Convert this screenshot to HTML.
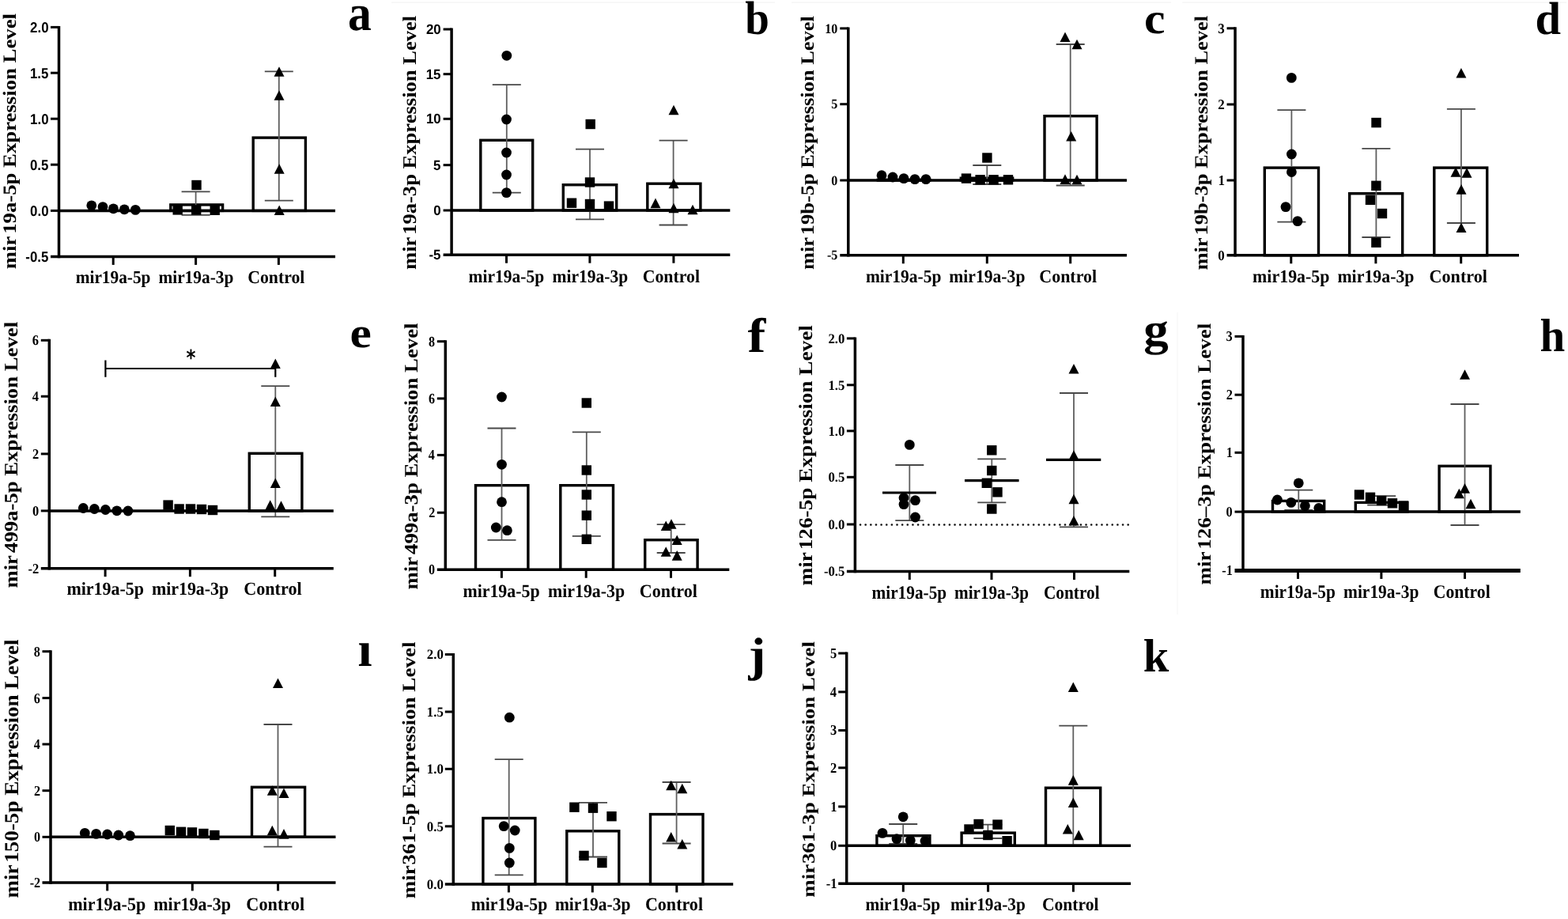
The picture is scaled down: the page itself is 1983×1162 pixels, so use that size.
<!DOCTYPE html><html><head><meta charset="utf-8"><title>Figure</title><style>
html,body{margin:0;padding:0;background:#fff;overflow:hidden;width:1983px;height:1162px;}svg{display:block;filter:blur(0.5px);}text{text-rendering:geometricPrecision;}
.sb{font-family:"Liberation Serif","Times New Roman",serif;font-weight:bold;}
.ab{font-family:"Liberation Sans",Arial,sans-serif;font-weight:bold;}
.sr{font-family:"Liberation Serif","Times New Roman",serif;}
.db{font-family:"DejaVu Sans",sans-serif;font-weight:bold;}
</style></head><body>
<svg width="1983" height="1162" viewBox="0 0 1983 1162">
<rect width="1983" height="1162" fill="#fff"/>
<line x1="495" y1="3.1" x2="980" y2="3.1" stroke="#f3f3f3" stroke-width="1.4"/>
<line x1="1001" y1="3.1" x2="1481" y2="3.1" stroke="#f3f3f3" stroke-width="1.4"/>
<line x1="1495.2" y1="3.1" x2="1981" y2="3.1" stroke="#f3f3f3" stroke-width="1.4"/>
<line x1="1489" y1="395" x2="1489" y2="777" stroke="#f8f8f8" stroke-width="1.4"/>
<g>
<rect x="215.8" y="258.9" width="65.8" height="7.5" fill="#fff" stroke="#000" stroke-width="3.4"/>
<rect x="320.2" y="174.1" width="66.2" height="92.3" fill="#fff" stroke="#000" stroke-width="3.4"/>
<line x1="247.6" y1="242.3" x2="247.6" y2="271.8" stroke="#5e5e5e" stroke-width="1.8"/>
<line x1="229.6" y1="242.3" x2="265.6" y2="242.3" stroke="#484848" stroke-width="1.8"/>
<line x1="229.6" y1="271.8" x2="265.6" y2="271.8" stroke="#484848" stroke-width="1.8"/>
<line x1="352.8" y1="90.3" x2="352.8" y2="253.6" stroke="#5e5e5e" stroke-width="1.8"/>
<line x1="334.8" y1="90.3" x2="370.8" y2="90.3" stroke="#484848" stroke-width="1.8"/>
<line x1="334.8" y1="253.6" x2="370.8" y2="253.6" stroke="#484848" stroke-width="1.8"/>
<line x1="74.5" y1="32.9" x2="74.5" y2="326.15" stroke="#000" stroke-width="3.5"/>
<line x1="64" y1="34.4" x2="74.5" y2="34.4" stroke="#000" stroke-width="3"/>
<line x1="64" y1="92.2" x2="74.5" y2="92.2" stroke="#000" stroke-width="3"/>
<line x1="64" y1="150.2" x2="74.5" y2="150.2" stroke="#000" stroke-width="3"/>
<line x1="64" y1="208.2" x2="74.5" y2="208.2" stroke="#000" stroke-width="3"/>
<line x1="64" y1="266.4" x2="74.5" y2="266.4" stroke="#000" stroke-width="3"/>
<line x1="64" y1="324.4" x2="424" y2="324.4" stroke="#000" stroke-width="3.5"/>
<line x1="74.5" y1="266.4" x2="424" y2="266.4" stroke="#000" stroke-width="3.5"/>
<line x1="143.2" y1="324.4" x2="143.2" y2="334.9" stroke="#000" stroke-width="3"/>
<line x1="247.6" y1="324.4" x2="247.6" y2="334.9" stroke="#000" stroke-width="3"/>
<line x1="352.4" y1="324.4" x2="352.4" y2="334.9" stroke="#000" stroke-width="3"/>
<circle cx="115.8" cy="259.8" r="6.4"/>
<circle cx="130" cy="261.6" r="6.4"/>
<circle cx="143.4" cy="263.8" r="6.4"/>
<circle cx="157.3" cy="264.8" r="6.4"/>
<circle cx="171.3" cy="265.4" r="6.4"/>
<rect x="242.3" y="227.8" width="12.4" height="12.4"/>
<rect x="218.5" y="259.2" width="12.4" height="12.4"/>
<rect x="242" y="259.2" width="12.4" height="12.4"/>
<rect x="265.5" y="259.6" width="12.4" height="12.4"/>
<path d="M353 84.2L359.5 96.8L346.5 96.8Z"/>
<path d="M353 114.2L359.5 126.8L346.5 126.8Z"/>
<path d="M353.2 207.2L359.7 219.8L346.7 219.8Z"/>
<path d="M353.2 259.5L359.7 272.1L346.7 272.1Z"/>
<text class="ab" font-size="18.5" transform="translate(38.11 40.76) scale(0.909 1)">2.0</text>
<text class="ab" font-size="18.5" transform="translate(37.89 98.56) scale(0.909 1)">1.5</text>
<text class="ab" font-size="18.5" transform="translate(38.11 156.56) scale(0.909 1)">1.0</text>
<text class="ab" font-size="18.5" transform="translate(37.89 214.56) scale(0.909 1)">0.5</text>
<text class="ab" font-size="18.5" transform="translate(38.11 272.76) scale(0.909 1)">0.0</text>
<text class="ab" font-size="18.5" transform="translate(32.29 330.76) scale(0.909 1)">-0.5</text>
<text class="sb" font-size="23.66" transform="translate(20.1 340.22) rotate(-90) scale(1.1302 1)">mir<tspan dx="2.5">19a-5p Expression Level</tspan></text>
<text class="sb" font-size="23.03" transform="translate(95.72 357.9) scale(0.9265 1)">mir19a-5p</text>
<text class="sb" font-size="23.03" transform="translate(200.42 357.9) scale(0.9275 1)">mir19a-3p</text>
<text class="sb" font-size="23.03" transform="translate(313.23 357.9) scale(0.9461 1)">Control</text>
<text class="sb" font-size="64.72" transform="translate(440.09 37.75) scale(0.921 1)">a</text>
</g>
<g>
<rect x="607.8" y="177.3" width="65.9" height="88.7" fill="#fff" stroke="#000" stroke-width="3.4"/>
<rect x="712.3" y="233.7" width="67.4" height="32.3" fill="#fff" stroke="#000" stroke-width="3.4"/>
<rect x="818.8" y="232.2" width="67.1" height="33.8" fill="#fff" stroke="#000" stroke-width="3.4"/>
<line x1="640.8" y1="107.2" x2="640.8" y2="243.6" stroke="#5e5e5e" stroke-width="1.8"/>
<line x1="622.8" y1="107.2" x2="658.8" y2="107.2" stroke="#484848" stroke-width="1.8"/>
<line x1="622.8" y1="243.6" x2="658.8" y2="243.6" stroke="#484848" stroke-width="1.8"/>
<line x1="746" y1="188.7" x2="746" y2="277.3" stroke="#5e5e5e" stroke-width="1.8"/>
<line x1="728" y1="188.7" x2="764" y2="188.7" stroke="#484848" stroke-width="1.8"/>
<line x1="728" y1="277.3" x2="764" y2="277.3" stroke="#484848" stroke-width="1.8"/>
<line x1="851.6" y1="177.6" x2="851.6" y2="284.5" stroke="#5e5e5e" stroke-width="1.8"/>
<line x1="833.6" y1="177.6" x2="869.6" y2="177.6" stroke="#484848" stroke-width="1.8"/>
<line x1="833.6" y1="284.5" x2="869.6" y2="284.5" stroke="#484848" stroke-width="1.8"/>
<line x1="571.1" y1="35.5" x2="571.1" y2="323.95" stroke="#000" stroke-width="3.5"/>
<line x1="560.6" y1="37" x2="571.1" y2="37" stroke="#000" stroke-width="3"/>
<line x1="560.6" y1="93.7" x2="571.1" y2="93.7" stroke="#000" stroke-width="3"/>
<line x1="560.6" y1="150.3" x2="571.1" y2="150.3" stroke="#000" stroke-width="3"/>
<line x1="560.6" y1="208.7" x2="571.1" y2="208.7" stroke="#000" stroke-width="3"/>
<line x1="560.6" y1="266" x2="571.1" y2="266" stroke="#000" stroke-width="3"/>
<line x1="560.6" y1="322.2" x2="923.3" y2="322.2" stroke="#000" stroke-width="3.5"/>
<line x1="571.1" y1="266" x2="923.3" y2="266" stroke="#000" stroke-width="3.5"/>
<line x1="640.5" y1="322.2" x2="640.5" y2="332.7" stroke="#000" stroke-width="3"/>
<line x1="745.9" y1="322.2" x2="745.9" y2="332.7" stroke="#000" stroke-width="3"/>
<line x1="851.9" y1="322.2" x2="851.9" y2="332.7" stroke="#000" stroke-width="3"/>
<circle cx="640.8" cy="70.3" r="6.4"/>
<circle cx="640.5" cy="151" r="6.4"/>
<circle cx="640.5" cy="193" r="6.4"/>
<circle cx="640.5" cy="221" r="6.4"/>
<circle cx="640.5" cy="243.6" r="6.4"/>
<rect x="740.5" y="150.8" width="12.4" height="12.4"/>
<rect x="739.8" y="224.3" width="12.4" height="12.4"/>
<rect x="716.8" y="250.5" width="12.4" height="12.4"/>
<rect x="739.8" y="251.8" width="12.4" height="12.4"/>
<rect x="763.8" y="254.4" width="12.4" height="12.4"/>
<path d="M852 132.7L858.5 145.3L845.5 145.3Z"/>
<path d="M852 225.7L858.5 238.3L845.5 238.3Z"/>
<path d="M829 250.6L835.5 263.2L822.5 263.2Z"/>
<path d="M852 256.7L858.5 269.3L845.5 269.3Z"/>
<path d="M876 258.7L882.5 271.3L869.5 271.3Z"/>
<text class="ab" font-size="17.66" transform="translate(538.91 43.07) scale(0.9568 1)">20</text>
<text class="ab" font-size="17.66" transform="translate(538.69 99.77) scale(0.9568 1)">15</text>
<text class="ab" font-size="17.66" transform="translate(538.91 156.37) scale(0.9568 1)">10</text>
<text class="ab" font-size="17.66" transform="translate(548.08 214.77) scale(0.9568 1)">5</text>
<text class="ab" font-size="17.66" transform="translate(548.3 272.07) scale(0.9568 1)">0</text>
<text class="ab" font-size="17.66" transform="translate(542.46 328.27) scale(0.9568 1)">-5</text>
<text class="sb" font-size="24.27" transform="translate(526 340.92) rotate(-90) scale(1.0951 1)">mir<tspan dx="2.5">19a-3p Expression Level</tspan></text>
<text class="sb" font-size="23.03" transform="translate(592.62 356.7) scale(0.9334 1)">mir19a-5p</text>
<text class="sb" font-size="23.03" transform="translate(698.52 356.7) scale(0.9344 1)">mir19a-3p</text>
<text class="sb" font-size="23.03" transform="translate(812.63 356.7) scale(0.9488 1)">Control</text>
<text class="sb" font-size="59.66" transform="translate(942.28 43.4) scale(0.9231 1)">b</text>
</g>
<g>
<rect x="1110.3" y="227.2" width="65.4" height="0.8" fill="#fff" stroke="#000" stroke-width="3.4"/>
<rect x="1215.3" y="225.2" width="65.4" height="2.8" fill="#fff" stroke="#000" stroke-width="3.4"/>
<rect x="1321" y="146.7" width="66.1" height="81.3" fill="#fff" stroke="#000" stroke-width="3.4"/>
<line x1="1248.3" y1="209" x2="1248.3" y2="233" stroke="#5e5e5e" stroke-width="1.8"/>
<line x1="1230.3" y1="209" x2="1266.3" y2="209" stroke="#484848" stroke-width="1.8"/>
<line x1="1230.3" y1="233" x2="1266.3" y2="233" stroke="#484848" stroke-width="1.8"/>
<line x1="1353.7" y1="56" x2="1353.7" y2="234.5" stroke="#5e5e5e" stroke-width="1.8"/>
<line x1="1335.7" y1="56" x2="1371.7" y2="56" stroke="#484848" stroke-width="1.8"/>
<line x1="1335.7" y1="234.5" x2="1371.7" y2="234.5" stroke="#484848" stroke-width="1.8"/>
<line x1="1072.8" y1="34.4" x2="1072.8" y2="324.55" stroke="#000" stroke-width="3.5"/>
<line x1="1062.3" y1="35.9" x2="1072.8" y2="35.9" stroke="#000" stroke-width="3"/>
<line x1="1062.3" y1="131.7" x2="1072.8" y2="131.7" stroke="#000" stroke-width="3"/>
<line x1="1062.3" y1="228" x2="1072.8" y2="228" stroke="#000" stroke-width="3"/>
<line x1="1062.3" y1="322.8" x2="1425" y2="322.8" stroke="#000" stroke-width="3.5"/>
<line x1="1072.8" y1="228" x2="1425" y2="228" stroke="#000" stroke-width="3.5"/>
<line x1="1142.3" y1="322.8" x2="1142.3" y2="333.3" stroke="#000" stroke-width="3"/>
<line x1="1248.3" y1="322.8" x2="1248.3" y2="333.3" stroke="#000" stroke-width="3"/>
<line x1="1353.7" y1="322.8" x2="1353.7" y2="333.3" stroke="#000" stroke-width="3"/>
<circle cx="1115" cy="221.7" r="6.4"/>
<circle cx="1129" cy="224" r="6.4"/>
<circle cx="1143" cy="225.6" r="6.4"/>
<circle cx="1157" cy="226.6" r="6.4"/>
<circle cx="1171" cy="226.6" r="6.4"/>
<rect x="1242.2" y="193.3" width="12.4" height="12.4"/>
<rect x="1215.8" y="219.4" width="12.4" height="12.4"/>
<rect x="1233.4" y="221.1" width="12.4" height="12.4"/>
<rect x="1250.4" y="221.1" width="12.4" height="12.4"/>
<rect x="1268.8" y="221.1" width="12.4" height="12.4"/>
<path d="M1347 40.5L1353.5 53.1L1340.5 53.1Z"/>
<path d="M1362 49.7L1368.5 62.3L1355.5 62.3Z"/>
<path d="M1354.7 166L1361.2 178.6L1348.2 178.6Z"/>
<path d="M1347 220.3L1353.5 232.9L1340.5 232.9Z"/>
<path d="M1362 220.7L1368.5 233.3L1355.5 233.3Z"/>
<text class="sb" font-size="17.33" transform="translate(1043.21 41.58) scale(0.9288 1)">10</text>
<text class="sb" font-size="17.33" transform="translate(1051.25 137.38) scale(0.9288 1)">5</text>
<text class="sb" font-size="17.33" transform="translate(1051.26 233.68) scale(0.9288 1)">0</text>
<text class="sb" font-size="17.33" transform="translate(1045.88 328.48) scale(0.9288 1)">-5</text>
<text class="sb" font-size="23.66" transform="translate(1029.1 341.11) rotate(-90) scale(1.1173 1)">mir<tspan dx="2.5">19b-5p Expression Level</tspan></text>
<text class="sb" font-size="23.03" transform="translate(1094.92 356.7) scale(0.9334 1)">mir19a-5p</text>
<text class="sb" font-size="23.03" transform="translate(1200.32 356.7) scale(0.9394 1)">mir19a-3p</text>
<text class="sb" font-size="23.03" transform="translate(1314.32 356.7) scale(0.9542 1)">Control</text>
<text class="sb" font-size="55.21" transform="translate(1446.97 42) scale(1.0821 1)">c</text>
</g>
<g>
<rect x="1599.3" y="212.1" width="68.2" height="110.7" fill="#fff" stroke="#000" stroke-width="3.4"/>
<rect x="1706.7" y="244.7" width="67" height="78.1" fill="#fff" stroke="#000" stroke-width="3.4"/>
<rect x="1813.8" y="212.1" width="66.9" height="110.7" fill="#fff" stroke="#000" stroke-width="3.4"/>
<line x1="1633.4" y1="139.1" x2="1633.4" y2="280.6" stroke="#5e5e5e" stroke-width="1.8"/>
<line x1="1615.4" y1="139.1" x2="1651.4" y2="139.1" stroke="#484848" stroke-width="1.8"/>
<line x1="1615.4" y1="280.6" x2="1651.4" y2="280.6" stroke="#484848" stroke-width="1.8"/>
<line x1="1740.4" y1="187.8" x2="1740.4" y2="300" stroke="#5e5e5e" stroke-width="1.8"/>
<line x1="1722.4" y1="187.8" x2="1758.4" y2="187.8" stroke="#484848" stroke-width="1.8"/>
<line x1="1722.4" y1="300" x2="1758.4" y2="300" stroke="#484848" stroke-width="1.8"/>
<line x1="1847.9" y1="137.9" x2="1847.9" y2="282" stroke="#5e5e5e" stroke-width="1.8"/>
<line x1="1829.9" y1="137.9" x2="1865.9" y2="137.9" stroke="#484848" stroke-width="1.8"/>
<line x1="1829.9" y1="282" x2="1865.9" y2="282" stroke="#484848" stroke-width="1.8"/>
<line x1="1562.05" y1="34.3" x2="1562.05" y2="324.55" stroke="#000" stroke-width="3.5"/>
<line x1="1551.55" y1="35.8" x2="1562.05" y2="35.8" stroke="#000" stroke-width="3"/>
<line x1="1551.55" y1="132" x2="1562.05" y2="132" stroke="#000" stroke-width="3"/>
<line x1="1551.55" y1="228" x2="1562.05" y2="228" stroke="#000" stroke-width="3"/>
<line x1="1551.55" y1="322.8" x2="1921" y2="322.8" stroke="#000" stroke-width="3.5"/>
<line x1="1632.8" y1="322.8" x2="1632.8" y2="333.3" stroke="#000" stroke-width="3"/>
<line x1="1739.9" y1="322.8" x2="1739.9" y2="333.3" stroke="#000" stroke-width="3"/>
<line x1="1847.7" y1="322.8" x2="1847.7" y2="333.3" stroke="#000" stroke-width="3"/>
<circle cx="1633.3" cy="98.4" r="6.4"/>
<circle cx="1633.4" cy="195" r="6.4"/>
<circle cx="1633.4" cy="217.5" r="6.4"/>
<circle cx="1626" cy="261.6" r="6.4"/>
<circle cx="1641" cy="279.6" r="6.4"/>
<rect x="1734.3" y="148.9" width="12.4" height="12.4"/>
<rect x="1734.2" y="228.6" width="12.4" height="12.4"/>
<rect x="1726.8" y="246.6" width="12.4" height="12.4"/>
<rect x="1741.8" y="263.8" width="12.4" height="12.4"/>
<rect x="1734.2" y="300.5" width="12.4" height="12.4"/>
<path d="M1847.9 86L1854.4 98.6L1841.4 98.6Z"/>
<path d="M1841 211.2L1847.5 223.8L1834.5 223.8Z"/>
<path d="M1855 212.1L1861.5 224.7L1848.5 224.7Z"/>
<path d="M1848 233.1L1854.5 245.7L1841.5 245.7Z"/>
<path d="M1848 281.5L1854.5 294.1L1841.5 294.1Z"/>
<text class="sb" font-size="18.01" transform="translate(1540.15 41.67) scale(0.9472 1)">3</text>
<text class="sb" font-size="18.01" transform="translate(1540.31 137.87) scale(0.9472 1)">2</text>
<text class="sb" font-size="18.01" transform="translate(1540.46 233.87) scale(0.9472 1)">1</text>
<text class="sb" font-size="18.01" transform="translate(1540.22 328.67) scale(0.9472 1)">0</text>
<text class="sb" font-size="23.66" transform="translate(1526.5 341.62) rotate(-90) scale(1.1204 1)">mir<tspan dx="2.5">19b-3p Expression Level</tspan></text>
<text class="sb" font-size="23.03" transform="translate(1584.11 356.7) scale(0.9523 1)">mir19a-5p</text>
<text class="sb" font-size="23.03" transform="translate(1691.41 356.7) scale(0.9493 1)">mir19a-3p</text>
<text class="sb" font-size="23.03" transform="translate(1807.62 356.7) scale(0.9595 1)">Control</text>
<text class="sb" font-size="58.24" transform="translate(1941.6 43.42) scale(1.005 1)">d</text>
</g>
<g>
<rect x="315.3" y="573.3" width="66.6" height="72.6" fill="#fff" stroke="#000" stroke-width="3.4"/>
<line x1="348.3" y1="488.2" x2="348.3" y2="653.3" stroke="#5e5e5e" stroke-width="1.8"/>
<line x1="330.3" y1="488.2" x2="366.3" y2="488.2" stroke="#484848" stroke-width="1.8"/>
<line x1="330.3" y1="653.3" x2="366.3" y2="653.3" stroke="#484848" stroke-width="1.8"/>
<line x1="62.3" y1="428.8" x2="62.3" y2="720.45" stroke="#000" stroke-width="3.5"/>
<line x1="51.8" y1="430.3" x2="62.3" y2="430.3" stroke="#000" stroke-width="3"/>
<line x1="51.8" y1="501.2" x2="62.3" y2="501.2" stroke="#000" stroke-width="3"/>
<line x1="51.8" y1="573.9" x2="62.3" y2="573.9" stroke="#000" stroke-width="3"/>
<line x1="51.8" y1="645.9" x2="62.3" y2="645.9" stroke="#000" stroke-width="3"/>
<line x1="51.8" y1="718.7" x2="421.8" y2="718.7" stroke="#000" stroke-width="3.5"/>
<line x1="62.3" y1="645.9" x2="421.8" y2="645.9" stroke="#000" stroke-width="3.5"/>
<line x1="133.1" y1="718.7" x2="133.1" y2="729.2" stroke="#000" stroke-width="3"/>
<line x1="240.4" y1="718.7" x2="240.4" y2="729.2" stroke="#000" stroke-width="3"/>
<line x1="347.7" y1="718.7" x2="347.7" y2="729.2" stroke="#000" stroke-width="3"/>
<circle cx="105.3" cy="642.5" r="6.4"/>
<circle cx="119.4" cy="643.5" r="6.4"/>
<circle cx="133.4" cy="644.5" r="6.4"/>
<circle cx="147.8" cy="645.8" r="6.4"/>
<circle cx="161.9" cy="646" r="6.4"/>
<rect x="206.4" y="632.4" width="12.4" height="12.4"/>
<rect x="220.4" y="637.3" width="12.4" height="12.4"/>
<rect x="234.8" y="637.3" width="12.4" height="12.4"/>
<rect x="248.8" y="637.8" width="12.4" height="12.4"/>
<rect x="262.8" y="638.8" width="12.4" height="12.4"/>
<path d="M348.3 453.4L354.8 466L341.8 466Z"/>
<path d="M348.3 501.5L354.8 514.1L341.8 514.1Z"/>
<path d="M348.3 604.5L354.8 617.1L341.8 617.1Z"/>
<path d="M341.7 632.3L348.2 644.9L335.2 644.9Z"/>
<path d="M355.5 633.3L362 645.9L349 645.9Z"/>
<line x1="133.4" y1="466" x2="348.3" y2="466" stroke="#000" stroke-width="2.2"/>
<line x1="133.4" y1="455.5" x2="133.4" y2="476.8" stroke="#000" stroke-width="2.2"/>
<line x1="348.3" y1="466" x2="348.3" y2="476.8" stroke="#000" stroke-width="2.2"/>
<text class="db" font-size="27.8" transform="translate(235.44 461.73) scale(0.8192 1)">*</text>
<text class="sb" font-size="18.01" transform="translate(40.84 436.17) scale(0.915 1)">6</text>
<text class="sb" font-size="18.01" transform="translate(40.68 507.07) scale(0.915 1)">4</text>
<text class="sb" font-size="18.01" transform="translate(41.07 579.77) scale(0.915 1)">2</text>
<text class="sb" font-size="18.01" transform="translate(40.99 651.77) scale(0.915 1)">0</text>
<text class="sb" font-size="18.01" transform="translate(35.58 724.57) scale(0.915 1)">-2</text>
<text class="sb" font-size="24.12" transform="translate(21.5 743.62) rotate(-90) scale(1.1085 1)">mir<tspan dx="2.8">499a-5p Expression Level</tspan></text>
<text class="sb" font-size="23.19" transform="translate(84.41 752.1) scale(0.9479 1)">mir19a-5p</text>
<text class="sb" font-size="23.19" transform="translate(191.91 752.1) scale(0.9439 1)">mir19a-3p</text>
<text class="sb" font-size="23.19" transform="translate(308.21 752.1) scale(0.9557 1)">Control</text>
<text class="sb" font-size="54.28" transform="translate(442.61 438.51) scale(1.1323 1)">e</text>
</g>
<g>
<rect x="601.5" y="613.7" width="66.4" height="106.6" fill="#fff" stroke="#000" stroke-width="3.4"/>
<rect x="708.8" y="613.7" width="66.7" height="106.6" fill="#fff" stroke="#000" stroke-width="3.4"/>
<rect x="815.7" y="682.7" width="66.4" height="37.6" fill="#fff" stroke="#000" stroke-width="3.4"/>
<line x1="634.5" y1="541.5" x2="634.5" y2="682.8" stroke="#5e5e5e" stroke-width="1.8"/>
<line x1="616.5" y1="541.5" x2="652.5" y2="541.5" stroke="#484848" stroke-width="1.8"/>
<line x1="616.5" y1="682.8" x2="652.5" y2="682.8" stroke="#484848" stroke-width="1.8"/>
<line x1="741.8" y1="546.4" x2="741.8" y2="677.9" stroke="#5e5e5e" stroke-width="1.8"/>
<line x1="723.8" y1="546.4" x2="759.8" y2="546.4" stroke="#484848" stroke-width="1.8"/>
<line x1="723.8" y1="677.9" x2="759.8" y2="677.9" stroke="#484848" stroke-width="1.8"/>
<line x1="848.7" y1="663.1" x2="848.7" y2="699" stroke="#5e5e5e" stroke-width="1.8"/>
<line x1="830.7" y1="663.1" x2="866.7" y2="663.1" stroke="#484848" stroke-width="1.8"/>
<line x1="830.7" y1="699" x2="866.7" y2="699" stroke="#484848" stroke-width="1.8"/>
<line x1="563.3" y1="430.2" x2="563.3" y2="722.05" stroke="#000" stroke-width="3.5"/>
<line x1="552.8" y1="431.7" x2="563.3" y2="431.7" stroke="#000" stroke-width="3"/>
<line x1="552.8" y1="503.9" x2="563.3" y2="503.9" stroke="#000" stroke-width="3"/>
<line x1="552.8" y1="575.4" x2="563.3" y2="575.4" stroke="#000" stroke-width="3"/>
<line x1="552.8" y1="648.2" x2="563.3" y2="648.2" stroke="#000" stroke-width="3"/>
<line x1="552.8" y1="720.3" x2="922.3" y2="720.3" stroke="#000" stroke-width="3.5"/>
<line x1="634.4" y1="720.3" x2="634.4" y2="730.8" stroke="#000" stroke-width="3"/>
<line x1="741.2" y1="720.3" x2="741.2" y2="730.8" stroke="#000" stroke-width="3"/>
<line x1="848.5" y1="720.3" x2="848.5" y2="730.8" stroke="#000" stroke-width="3"/>
<circle cx="634.5" cy="502" r="6.4"/>
<circle cx="634.5" cy="587.3" r="6.4"/>
<circle cx="634.5" cy="634.7" r="6.4"/>
<circle cx="627.3" cy="667" r="6.4"/>
<circle cx="641.4" cy="670.7" r="6.4"/>
<rect x="735.6" y="503.3" width="12.4" height="12.4"/>
<rect x="735.6" y="588.3" width="12.4" height="12.4"/>
<rect x="735.6" y="619.3" width="12.4" height="12.4"/>
<rect x="735.6" y="645.5" width="12.4" height="12.4"/>
<rect x="735.6" y="675.6" width="12.4" height="12.4"/>
<path d="M842.2 658.5L848.7 671.1L835.7 671.1Z"/>
<path d="M849 656.2L855.5 668.8L842.5 668.8Z"/>
<path d="M856.2 676.5L862.7 689.1L849.7 689.1Z"/>
<path d="M842.2 691.2L848.7 703.8L835.7 703.8Z"/>
<path d="M856.2 696.1L862.7 708.7L849.7 708.7Z"/>
<text class="sb" font-size="18.37" transform="translate(541.97 437.72) scale(0.878 1)">8</text>
<text class="sb" font-size="18.37" transform="translate(541.9 509.92) scale(0.878 1)">6</text>
<text class="sb" font-size="18.37" transform="translate(541.74 581.42) scale(0.878 1)">4</text>
<text class="sb" font-size="18.37" transform="translate(542.13 654.22) scale(0.878 1)">2</text>
<text class="sb" font-size="18.37" transform="translate(542.05 726.32) scale(0.878 1)">0</text>
<text class="sb" font-size="24.12" transform="translate(527.7 745.62) rotate(-90) scale(1.1099 1)">mir<tspan dx="2.8">499a-3p Expression Level</tspan></text>
<text class="sb" font-size="23.34" transform="translate(585.41 754.6) scale(0.9376 1)">mir19a-5p</text>
<text class="sb" font-size="23.34" transform="translate(693.01 754.6) scale(0.9367 1)">mir19a-3p</text>
<text class="sb" font-size="23.34" transform="translate(808.72 754.6) scale(0.9467 1)">Control</text>
<text class="sb" font-size="61.36" transform="translate(945.52 444.7) scale(1.1155 1)">f</text>
</g>
<g>
<line x1="1150.3" y1="588" x2="1150.3" y2="658.2" stroke="#5e5e5e" stroke-width="1.8"/>
<line x1="1132.3" y1="588" x2="1168.3" y2="588" stroke="#484848" stroke-width="1.8"/>
<line x1="1132.3" y1="658.2" x2="1168.3" y2="658.2" stroke="#484848" stroke-width="1.8"/>
<line x1="1254.3" y1="580.4" x2="1254.3" y2="635.4" stroke="#5e5e5e" stroke-width="1.8"/>
<line x1="1236.3" y1="580.4" x2="1272.3" y2="580.4" stroke="#484848" stroke-width="1.8"/>
<line x1="1236.3" y1="635.4" x2="1272.3" y2="635.4" stroke="#484848" stroke-width="1.8"/>
<line x1="1358" y1="497" x2="1358" y2="666.4" stroke="#5e5e5e" stroke-width="1.8"/>
<line x1="1340" y1="497" x2="1376" y2="497" stroke="#484848" stroke-width="1.8"/>
<line x1="1340" y1="666.4" x2="1376" y2="666.4" stroke="#484848" stroke-width="1.8"/>
<line x1="1116" y1="623" x2="1184" y2="623" stroke="#000" stroke-width="3.2"/>
<line x1="1220" y1="607.6" x2="1288.6" y2="607.6" stroke="#000" stroke-width="3.2"/>
<line x1="1323" y1="581.4" x2="1392.3" y2="581.4" stroke="#000" stroke-width="3.2"/>
<line x1="1081.4" y1="663.5" x2="1428.3" y2="663.5" stroke="#111" stroke-width="2.7" stroke-dasharray="0.01 6.63" stroke-linecap="round"/>
<line x1="1081.4" y1="426.4" x2="1081.4" y2="724.35" stroke="#000" stroke-width="3.5"/>
<line x1="1070.9" y1="427.9" x2="1081.4" y2="427.9" stroke="#000" stroke-width="3"/>
<line x1="1070.9" y1="486.8" x2="1081.4" y2="486.8" stroke="#000" stroke-width="3"/>
<line x1="1070.9" y1="544.9" x2="1081.4" y2="544.9" stroke="#000" stroke-width="3"/>
<line x1="1070.9" y1="603.3" x2="1081.4" y2="603.3" stroke="#000" stroke-width="3"/>
<line x1="1070.9" y1="663" x2="1081.4" y2="663" stroke="#000" stroke-width="3"/>
<line x1="1070.9" y1="722.6" x2="1428.3" y2="722.6" stroke="#000" stroke-width="3.5"/>
<line x1="1150.3" y1="722.6" x2="1150.3" y2="733.1" stroke="#000" stroke-width="3"/>
<line x1="1254" y1="722.6" x2="1254" y2="733.1" stroke="#000" stroke-width="3"/>
<line x1="1358.5" y1="722.6" x2="1358.5" y2="733.1" stroke="#000" stroke-width="3"/>
<circle cx="1150.3" cy="562.4" r="6.4"/>
<circle cx="1143" cy="629.5" r="6.4"/>
<circle cx="1143" cy="637.6" r="6.4"/>
<circle cx="1157.5" cy="632.7" r="6.4"/>
<circle cx="1157.5" cy="654" r="6.4"/>
<rect x="1248.1" y="563.1" width="12.4" height="12.4"/>
<rect x="1248.1" y="588.8" width="12.4" height="12.4"/>
<rect x="1241.6" y="604.6" width="12.4" height="12.4"/>
<rect x="1255.3" y="616.1" width="12.4" height="12.4"/>
<rect x="1248.1" y="637.3" width="12.4" height="12.4"/>
<path d="M1358 460L1364.5 472.6L1351.5 472.6Z"/>
<path d="M1358 569.2L1364.5 581.8L1351.5 581.8Z"/>
<path d="M1358 624.7L1364.5 637.3L1351.5 637.3Z"/>
<path d="M1358 651.9L1364.5 664.5L1351.5 664.5Z"/>
<text class="sb" font-size="17.53" transform="translate(1047.5 433.6) scale(0.9559 1)">2.0</text>
<text class="sb" font-size="17.53" transform="translate(1047.48 492.5) scale(0.9559 1)">1.5</text>
<text class="sb" font-size="17.53" transform="translate(1047.5 550.6) scale(0.9559 1)">1.0</text>
<text class="sb" font-size="17.53" transform="translate(1047.48 609) scale(0.9559 1)">0.5</text>
<text class="sb" font-size="17.53" transform="translate(1047.5 668.7) scale(0.9559 1)">0.0</text>
<text class="sb" font-size="17.53" transform="translate(1041.9 728.3) scale(0.9559 1)">-0.5</text>
<text class="sb" font-size="24.27" transform="translate(1027.4 740.54) rotate(-90) scale(1.1235 1)">mir<tspan dx="2.5">126-5p Expression Level</tspan></text>
<text class="sb" font-size="23.81" transform="translate(1102.53 756.6) scale(0.8943 1)">mir19a-5p</text>
<text class="sb" font-size="23.81" transform="translate(1207.03 756.6) scale(0.8895 1)">mir19a-3p</text>
<text class="sb" font-size="23.81" transform="translate(1319.95 756.6) scale(0.8958 1)">Control</text>
<text class="sb" font-size="58.04" transform="translate(1446.36 436.17) scale(1.088 1)">g</text>
</g>
<g>
<rect x="1609.5" y="633.4" width="65.2" height="13.7" fill="#fff" stroke="#000" stroke-width="3.4"/>
<rect x="1714.3" y="635.4" width="65.6" height="11.7" fill="#fff" stroke="#000" stroke-width="3.4"/>
<rect x="1820.1" y="589.3" width="64.8" height="57.8" fill="#fff" stroke="#000" stroke-width="3.4"/>
<line x1="1642.3" y1="619.7" x2="1642.3" y2="645" stroke="#5e5e5e" stroke-width="1.8"/>
<line x1="1624.3" y1="619.7" x2="1660.3" y2="619.7" stroke="#484848" stroke-width="1.8"/>
<line x1="1624.3" y1="645" x2="1660.3" y2="645" stroke="#484848" stroke-width="1.8"/>
<line x1="1747.2" y1="627.2" x2="1747.2" y2="638.6" stroke="#5e5e5e" stroke-width="1.8"/>
<line x1="1729.2" y1="627.2" x2="1765.2" y2="627.2" stroke="#484848" stroke-width="1.8"/>
<line x1="1729.2" y1="638.6" x2="1765.2" y2="638.6" stroke="#484848" stroke-width="1.8"/>
<line x1="1852.5" y1="511" x2="1852.5" y2="664" stroke="#5e5e5e" stroke-width="1.8"/>
<line x1="1834.5" y1="511" x2="1870.5" y2="511" stroke="#484848" stroke-width="1.8"/>
<line x1="1834.5" y1="664" x2="1870.5" y2="664" stroke="#484848" stroke-width="1.8"/>
<line x1="1572" y1="423.9" x2="1572" y2="724" stroke="#000" stroke-width="3.5"/>
<line x1="1561.5" y1="425.4" x2="1572" y2="425.4" stroke="#000" stroke-width="3"/>
<line x1="1561.5" y1="499.2" x2="1572" y2="499.2" stroke="#000" stroke-width="3"/>
<line x1="1561.5" y1="572.3" x2="1572" y2="572.3" stroke="#000" stroke-width="3"/>
<line x1="1561.5" y1="647.1" x2="1572" y2="647.1" stroke="#000" stroke-width="3"/>
<line x1="1561.5" y1="721.5" x2="1922.8" y2="721.5" stroke="#000" stroke-width="5"/>
<line x1="1572" y1="647.1" x2="1922.8" y2="647.1" stroke="#000" stroke-width="3.5"/>
<line x1="1641.5" y1="721.5" x2="1641.5" y2="732" stroke="#000" stroke-width="3"/>
<line x1="1746.9" y1="721.5" x2="1746.9" y2="732" stroke="#000" stroke-width="3"/>
<line x1="1852.5" y1="721.5" x2="1852.5" y2="732" stroke="#000" stroke-width="3"/>
<circle cx="1642.3" cy="610.8" r="6.4"/>
<circle cx="1615.4" cy="632" r="6.4"/>
<circle cx="1632.8" cy="635.4" r="6.4"/>
<circle cx="1650.4" cy="639.6" r="6.4"/>
<circle cx="1667.8" cy="642.5" r="6.4"/>
<rect x="1712.8" y="619.3" width="12.4" height="12.4"/>
<rect x="1726.8" y="622.6" width="12.4" height="12.4"/>
<rect x="1741" y="626.8" width="12.4" height="12.4"/>
<rect x="1754.8" y="630.1" width="12.4" height="12.4"/>
<rect x="1768.8" y="633.4" width="12.4" height="12.4"/>
<path d="M1852.5 467.2L1859 479.8L1846 479.8Z"/>
<path d="M1845.3 617.7L1851.8 630.3L1838.8 630.3Z"/>
<path d="M1852.5 611.1L1859 623.7L1846 623.7Z"/>
<path d="M1860 630.7L1866.5 643.3L1853.5 643.3Z"/>
<text class="sb" font-size="18.15" transform="translate(1550.48 431.32) scale(0.9009 1)">3</text>
<text class="sb" font-size="18.15" transform="translate(1550.63 505.12) scale(0.9009 1)">2</text>
<text class="sb" font-size="18.15" transform="translate(1550.77 578.22) scale(0.9009 1)">1</text>
<text class="sb" font-size="18.15" transform="translate(1550.54 653.02) scale(0.9009 1)">0</text>
<text class="sb" font-size="18.15" transform="translate(1545.33 727.42) scale(0.9009 1)">-1</text>
<text class="sb" font-size="23.82" transform="translate(1530.7 739.43) rotate(-90) scale(1.1331 1)">mir<tspan dx="2.5">126–3p Expression Level</tspan></text>
<text class="sb" font-size="23.97" transform="translate(1593.82 755.8) scale(0.8923 1)">mir19a-5p</text>
<text class="sb" font-size="23.97" transform="translate(1699.02 755.8) scale(0.8952 1)">mir19a-3p</text>
<text class="sb" font-size="23.97" transform="translate(1812.74 755.8) scale(0.9054 1)">Control</text>
<text class="sb" font-size="59.08" transform="translate(1947.58 444) scale(0.9644 1)">h</text>
</g>
<g>
<rect x="318.5" y="995.3" width="67.1" height="63" fill="#fff" stroke="#000" stroke-width="3.4"/>
<line x1="351.5" y1="916" x2="351.5" y2="1070.7" stroke="#5e5e5e" stroke-width="1.8"/>
<line x1="333.5" y1="916" x2="369.5" y2="916" stroke="#484848" stroke-width="1.8"/>
<line x1="333.5" y1="1070.7" x2="369.5" y2="1070.7" stroke="#484848" stroke-width="1.8"/>
<line x1="64" y1="822.2" x2="64" y2="1117.65" stroke="#000" stroke-width="3.5"/>
<line x1="53.5" y1="823.7" x2="64" y2="823.7" stroke="#000" stroke-width="3"/>
<line x1="53.5" y1="882.6" x2="64" y2="882.6" stroke="#000" stroke-width="3"/>
<line x1="53.5" y1="941" x2="64" y2="941" stroke="#000" stroke-width="3"/>
<line x1="53.5" y1="999.7" x2="64" y2="999.7" stroke="#000" stroke-width="3"/>
<line x1="53.5" y1="1058.3" x2="64" y2="1058.3" stroke="#000" stroke-width="3"/>
<line x1="53.5" y1="1115.9" x2="424.5" y2="1115.9" stroke="#000" stroke-width="3.5"/>
<line x1="64" y1="1058.3" x2="424.5" y2="1058.3" stroke="#000" stroke-width="3.5"/>
<line x1="135.7" y1="1115.9" x2="135.7" y2="1126.4" stroke="#000" stroke-width="3"/>
<line x1="243.3" y1="1115.9" x2="243.3" y2="1126.4" stroke="#000" stroke-width="3"/>
<line x1="351.6" y1="1115.9" x2="351.6" y2="1126.4" stroke="#000" stroke-width="3"/>
<circle cx="107.3" cy="1053.4" r="6.4"/>
<circle cx="121.6" cy="1054.4" r="6.4"/>
<circle cx="135.7" cy="1055" r="6.4"/>
<circle cx="149.8" cy="1056" r="6.4"/>
<circle cx="164.5" cy="1056.7" r="6.4"/>
<rect x="208.6" y="1043.8" width="12.4" height="12.4"/>
<rect x="222.8" y="1045.6" width="12.4" height="12.4"/>
<rect x="236.8" y="1046.2" width="12.4" height="12.4"/>
<rect x="251.2" y="1047.8" width="12.4" height="12.4"/>
<rect x="265.2" y="1049.8" width="12.4" height="12.4"/>
<path d="M351.5 857.5L358 870.1L345 870.1Z"/>
<path d="M344.3 993.2L350.8 1005.8L337.8 1005.8Z"/>
<path d="M359 996.4L365.5 1009L352.5 1009Z"/>
<path d="M344.3 1043.7L350.8 1056.3L337.8 1056.3Z"/>
<path d="M359 1048.1L365.5 1060.7L352.5 1060.7Z"/>
<text class="sb" font-size="18.22" transform="translate(42.87 829.67) scale(0.8851 1)">8</text>
<text class="sb" font-size="18.22" transform="translate(42.8 888.57) scale(0.8851 1)">6</text>
<text class="sb" font-size="18.22" transform="translate(42.64 946.97) scale(0.8851 1)">4</text>
<text class="sb" font-size="18.22" transform="translate(43.03 1005.67) scale(0.8851 1)">2</text>
<text class="sb" font-size="18.22" transform="translate(42.95 1064.27) scale(0.8851 1)">0</text>
<text class="sb" font-size="18.22" transform="translate(37.66 1121.87) scale(0.8851 1)">-2</text>
<text class="sb" font-size="25.34" transform="translate(22.6 1135.53) rotate(-90) scale(1.0687 1)">mir<tspan dx="2.5">150-5p Expression Level</tspan></text>
<text class="sb" font-size="23.5" transform="translate(86.2 1151.2) scale(0.9382 1)">mir19a-5p</text>
<text class="sb" font-size="23.5" transform="translate(194.31 1151.2) scale(0.9353 1)">mir19a-3p</text>
<text class="sb" font-size="23.5" transform="translate(311.31 1151.2) scale(0.947 1)">Control</text>
<text class="sb" font-size="62.53" transform="translate(452.47 842) scale(1.0419 1)">ı</text>
</g>
<g>
<rect x="610.9" y="1034.5" width="66" height="83.4" fill="#fff" stroke="#000" stroke-width="3.4"/>
<rect x="716.8" y="1050.8" width="66" height="67.1" fill="#fff" stroke="#000" stroke-width="3.4"/>
<rect x="822.5" y="1029.6" width="66.5" height="88.3" fill="#fff" stroke="#000" stroke-width="3.4"/>
<line x1="643.7" y1="960.2" x2="643.7" y2="1106.4" stroke="#5e5e5e" stroke-width="1.8"/>
<line x1="625.7" y1="960.2" x2="661.7" y2="960.2" stroke="#484848" stroke-width="1.8"/>
<line x1="625.7" y1="1106.4" x2="661.7" y2="1106.4" stroke="#484848" stroke-width="1.8"/>
<line x1="750" y1="1014.8" x2="750" y2="1083.5" stroke="#5e5e5e" stroke-width="1.8"/>
<line x1="732" y1="1014.8" x2="768" y2="1014.8" stroke="#484848" stroke-width="1.8"/>
<line x1="732" y1="1083.5" x2="768" y2="1083.5" stroke="#484848" stroke-width="1.8"/>
<line x1="855.6" y1="989" x2="855.6" y2="1066.5" stroke="#5e5e5e" stroke-width="1.8"/>
<line x1="837.6" y1="989" x2="873.6" y2="989" stroke="#484848" stroke-width="1.8"/>
<line x1="837.6" y1="1066.5" x2="873.6" y2="1066.5" stroke="#484848" stroke-width="1.8"/>
<line x1="573.3" y1="826" x2="573.3" y2="1119.65" stroke="#000" stroke-width="3.5"/>
<line x1="562.8" y1="827.5" x2="573.3" y2="827.5" stroke="#000" stroke-width="3"/>
<line x1="562.8" y1="900" x2="573.3" y2="900" stroke="#000" stroke-width="3"/>
<line x1="562.8" y1="972.3" x2="573.3" y2="972.3" stroke="#000" stroke-width="3"/>
<line x1="562.8" y1="1044.8" x2="573.3" y2="1044.8" stroke="#000" stroke-width="3"/>
<line x1="562.8" y1="1117.9" x2="927.2" y2="1117.9" stroke="#000" stroke-width="3.5"/>
<line x1="643.4" y1="1117.9" x2="643.4" y2="1128.4" stroke="#000" stroke-width="3"/>
<line x1="749.3" y1="1117.9" x2="749.3" y2="1128.4" stroke="#000" stroke-width="3"/>
<line x1="855.8" y1="1117.9" x2="855.8" y2="1128.4" stroke="#000" stroke-width="3"/>
<circle cx="644.3" cy="907.2" r="6.4"/>
<circle cx="637.2" cy="1044.6" r="6.4"/>
<circle cx="651.2" cy="1050" r="6.4"/>
<circle cx="644.3" cy="1072.4" r="6.4"/>
<circle cx="644.3" cy="1091" r="6.4"/>
<rect x="720.2" y="1014.5" width="12.4" height="12.4"/>
<rect x="743.8" y="1015.5" width="12.4" height="12.4"/>
<rect x="767.3" y="1026" width="12.4" height="12.4"/>
<rect x="732.3" y="1075.7" width="12.4" height="12.4"/>
<rect x="755.2" y="1084.8" width="12.4" height="12.4"/>
<path d="M848.7 986.7L855.2 999.3L842.2 999.3Z"/>
<path d="M862.8 990.7L869.3 1003.3L856.3 1003.3Z"/>
<path d="M848.7 1052L855.2 1064.6L842.2 1064.6Z"/>
<path d="M862.8 1060.9L869.3 1073.5L856.3 1073.5Z"/>
<text class="sb" font-size="17.53" transform="translate(539.79 833.2) scale(0.9607 1)">2.0</text>
<text class="sb" font-size="17.53" transform="translate(539.78 905.7) scale(0.9607 1)">1.5</text>
<text class="sb" font-size="17.53" transform="translate(539.79 978) scale(0.9607 1)">1.0</text>
<text class="sb" font-size="17.53" transform="translate(539.78 1050.5) scale(0.9607 1)">0.5</text>
<text class="sb" font-size="17.53" transform="translate(539.79 1123.6) scale(0.9607 1)">0.0</text>
<text class="sb" font-size="23.66" transform="translate(524.6 1136.33) rotate(-90) scale(1.1434 1)">mir<tspan dx="0.6">361-5p Expression Level</tspan></text>
<text class="sb" font-size="23.34" transform="translate(595.71 1151.3) scale(0.9318 1)">mir19a-5p</text>
<text class="sb" font-size="23.34" transform="translate(701.92 1151.3) scale(0.922 1)">mir19a-3p</text>
<text class="sb" font-size="23.34" transform="translate(815.92 1151.3) scale(0.9454 1)">Control</text>
<text class="sb" font-size="60.09" transform="translate(946.53 848) scale(1.0955 1)">j</text>
</g>
<g>
<rect x="1108.9" y="1056.7" width="67" height="12.6" fill="#fff" stroke="#000" stroke-width="3.4"/>
<rect x="1216.1" y="1053.1" width="67.2" height="16.2" fill="#fff" stroke="#000" stroke-width="3.4"/>
<rect x="1322.5" y="996.2" width="69.2" height="73.1" fill="#fff" stroke="#000" stroke-width="3.4"/>
<line x1="1142.2" y1="1042" x2="1142.2" y2="1067" stroke="#5e5e5e" stroke-width="1.8"/>
<line x1="1124.2" y1="1042" x2="1160.2" y2="1042" stroke="#484848" stroke-width="1.8"/>
<line x1="1124.2" y1="1067" x2="1160.2" y2="1067" stroke="#484848" stroke-width="1.8"/>
<line x1="1249.4" y1="1042.6" x2="1249.4" y2="1060" stroke="#5e5e5e" stroke-width="1.8"/>
<line x1="1231.4" y1="1042.6" x2="1267.4" y2="1042.6" stroke="#484848" stroke-width="1.8"/>
<line x1="1231.4" y1="1060" x2="1267.4" y2="1060" stroke="#484848" stroke-width="1.8"/>
<line x1="1357.3" y1="917.7" x2="1357.3" y2="1068.8" stroke="#5e5e5e" stroke-width="1.8"/>
<line x1="1339.3" y1="917.7" x2="1375.3" y2="917.7" stroke="#484848" stroke-width="1.8"/>
<line x1="1070.7" y1="824.5" x2="1070.7" y2="1118.95" stroke="#000" stroke-width="3.5"/>
<line x1="1060.2" y1="826" x2="1070.7" y2="826" stroke="#000" stroke-width="3"/>
<line x1="1060.2" y1="874.9" x2="1070.7" y2="874.9" stroke="#000" stroke-width="3"/>
<line x1="1060.2" y1="923.5" x2="1070.7" y2="923.5" stroke="#000" stroke-width="3"/>
<line x1="1060.2" y1="970.8" x2="1070.7" y2="970.8" stroke="#000" stroke-width="3"/>
<line x1="1060.2" y1="1019.9" x2="1070.7" y2="1019.9" stroke="#000" stroke-width="3"/>
<line x1="1060.2" y1="1069.3" x2="1070.7" y2="1069.3" stroke="#000" stroke-width="3"/>
<line x1="1060.2" y1="1117.2" x2="1430" y2="1117.2" stroke="#000" stroke-width="3.5"/>
<line x1="1070.7" y1="1069.3" x2="1430" y2="1069.3" stroke="#000" stroke-width="3.5"/>
<line x1="1142.3" y1="1117.2" x2="1142.3" y2="1127.7" stroke="#000" stroke-width="3"/>
<line x1="1249.6" y1="1117.2" x2="1249.6" y2="1127.7" stroke="#000" stroke-width="3"/>
<line x1="1357.4" y1="1117.2" x2="1357.4" y2="1127.7" stroke="#000" stroke-width="3"/>
<circle cx="1142.2" cy="1032.8" r="6.4"/>
<circle cx="1116" cy="1053.4" r="6.4"/>
<circle cx="1134" cy="1060.6" r="6.4"/>
<circle cx="1151.3" cy="1062.6" r="6.4"/>
<circle cx="1170" cy="1063.2" r="6.4"/>
<rect x="1219.3" y="1042.3" width="12.4" height="12.4"/>
<rect x="1231.4" y="1035.8" width="12.4" height="12.4"/>
<rect x="1255.3" y="1036.4" width="12.4" height="12.4"/>
<rect x="1243.2" y="1049.8" width="12.4" height="12.4"/>
<rect x="1267.4" y="1057" width="12.4" height="12.4"/>
<path d="M1357.3 862.4L1363.8 875L1350.8 875Z"/>
<path d="M1357.3 980.1L1363.8 992.7L1350.8 992.7Z"/>
<path d="M1357.3 1008.5L1363.8 1021.1L1350.8 1021.1Z"/>
<path d="M1350.3 1042L1356.8 1054.6L1343.8 1054.6Z"/>
<path d="M1364.2 1049.6L1370.7 1062.2L1357.7 1062.2Z"/>
<text class="sb" font-size="18.2" transform="translate(1049.94 831.87) scale(0.9095 1)">5</text>
<text class="sb" font-size="18.2" transform="translate(1049.64 880.77) scale(0.9095 1)">4</text>
<text class="sb" font-size="18.2" transform="translate(1049.89 929.37) scale(0.9095 1)">3</text>
<text class="sb" font-size="18.2" transform="translate(1050.04 976.67) scale(0.9095 1)">2</text>
<text class="sb" font-size="18.2" transform="translate(1050.19 1025.77) scale(0.9095 1)">1</text>
<text class="sb" font-size="18.2" transform="translate(1049.95 1075.17) scale(0.9095 1)">0</text>
<text class="sb" font-size="18.2" transform="translate(1044.68 1123.07) scale(0.9095 1)">-1</text>
<text class="sb" font-size="22.6" transform="translate(1029.6 1134.73) rotate(-90) scale(1.1929 1)">mir<tspan dx="0.6">361-3p Expression Level</tspan></text>
<text class="sb" font-size="22.88" transform="translate(1094.42 1151.3) scale(0.9318 1)">mir19a-5p</text>
<text class="sb" font-size="22.88" transform="translate(1201.92 1151.3) scale(0.9338 1)">mir19a-3p</text>
<text class="sb" font-size="22.88" transform="translate(1317.94 1151.3) scale(0.9445 1)">Control</text>
<text class="sb" font-size="59.08" transform="translate(1445.84 849) scale(0.9901 1)">k</text>
</g>
</svg></body></html>
